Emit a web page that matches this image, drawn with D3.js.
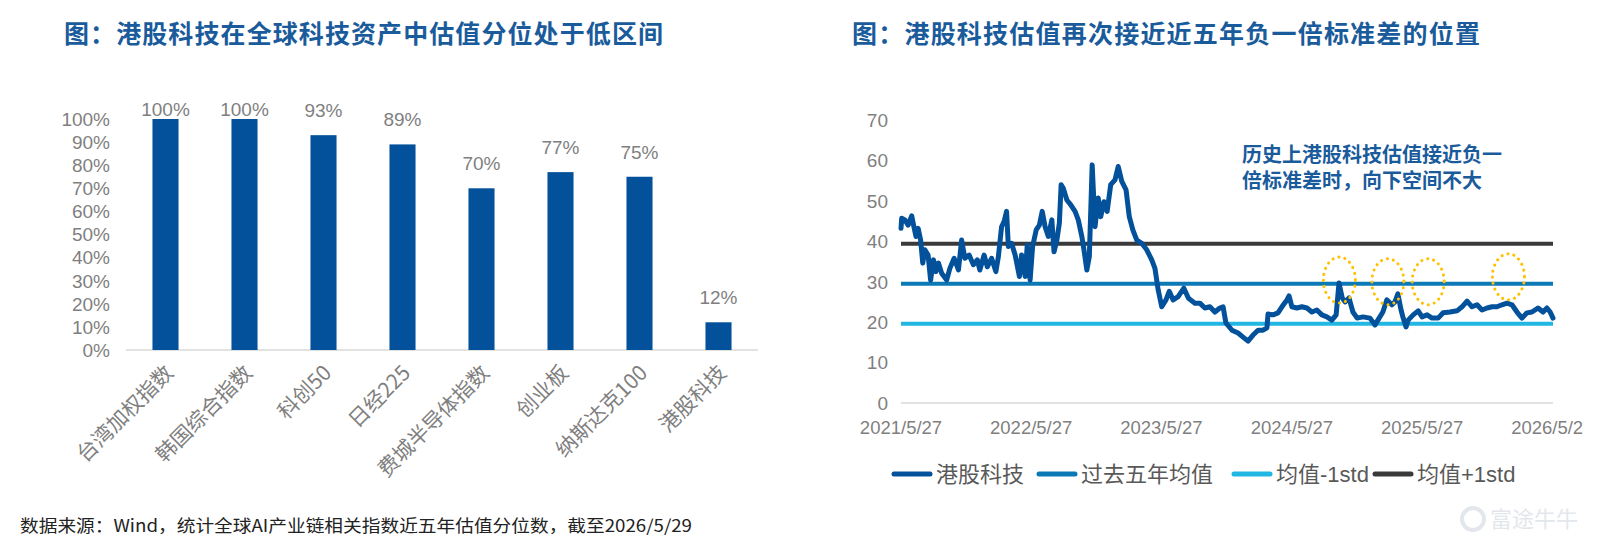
<!DOCTYPE html>
<html>
<head>
<meta charset="utf-8">
<script src="https://cdn.jsdelivr.net/npm/d3@7"></script>
<style>
  body { margin: 0; background: #fff; }
  svg { display: block; font-family: "Liberation Sans", Arial, "Noto Sans CJK SC", sans-serif; }
</style>
</head>
<body>
<svg id="svg"></svg>
<script>
let svg = d3.select("#svg");

const width = 1600;
const height = 540;

// left chart: valuation percentile of global tech indices
const categories = ["台湾加权指数", "韩国综合指数", "科创50", "日经225", "费城半导体指数", "创业板", "纳斯达克100", "港股科技"];
const percentiles = [1.00, 1.00, 0.93, 0.89, 0.70, 0.77, 0.75, 0.12];
const pctTicks = [0, 0.1, 0.2, 0.3, 0.4, 0.5, 0.6, 0.7, 0.8, 0.9, 1.0];

// right chart: HK tech valuation vs 5y mean +/- 1 std
const seriesDates = [
  "2021-05-27", "2021-05-29", "2021-06-07", "2021-06-16", "2021-06-26", "2021-06-30", "2021-07-08", "2021-07-14",
  "2021-07-21", "2021-07-27", "2021-08-02", "2021-08-11", "2021-08-18", "2021-08-26", "2021-09-02", "2021-09-09",
  "2021-09-18", "2021-10-02", "2021-10-11", "2021-10-23", "2021-11-04", "2021-11-13", "2021-11-22", "2021-12-04",
  "2021-12-16", "2021-12-27", "2022-01-03", "2022-01-15", "2022-01-24", "2022-02-05", "2022-02-17", "2022-02-24",
  "2022-03-05", "2022-03-12", "2022-03-19", "2022-03-24", "2022-04-02", "2022-04-12", "2022-04-24", "2022-04-30",
  "2022-05-10", "2022-05-16", "2022-05-24", "2022-05-31", "2022-06-10", "2022-06-19", "2022-06-27", "2022-07-05",
  "2022-07-14", "2022-07-24", "2022-07-30", "2022-08-07", "2022-08-14", "2022-08-19", "2022-08-25", "2022-09-04",
  "2022-09-15", "2022-09-27", "2022-10-06", "2022-10-16", "2022-10-22", "2022-10-30", "2022-11-06", "2022-11-14",
  "2022-11-22", "2022-12-01", "2022-12-08", "2022-12-17", "2022-12-26", "2023-01-05", "2023-01-17", "2023-01-26",
  "2023-02-05", "2023-02-17", "2023-02-26", "2023-03-08", "2023-03-19", "2023-04-02", "2023-04-16", "2023-04-30",
  "2023-05-09", "2023-05-18", "2023-05-28", "2023-06-09", "2023-06-18", "2023-06-29", "2023-07-13", "2023-07-29",
  "2023-08-11", "2023-08-29", "2023-09-12", "2023-09-26", "2023-10-10", "2023-10-24", "2023-11-07", "2023-11-16",
  "2023-11-24", "2023-12-11", "2023-12-28", "2024-01-11", "2024-01-25", "2024-02-08", "2024-02-22", "2024-03-07",
  "2024-03-18", "2024-03-21", "2024-04-04", "2024-04-18", "2024-04-29", "2024-05-13", "2024-05-19", "2024-05-27",
  "2024-06-10", "2024-06-24", "2024-07-08", "2024-07-22", "2024-08-05", "2024-08-19", "2024-09-02", "2024-09-16",
  "2024-09-28", "2024-10-06", "2024-10-15", "2024-10-23", "2024-11-03", "2024-11-14", "2024-11-26", "2024-12-12",
  "2025-01-01", "2025-01-15", "2025-01-23", "2025-02-06", "2025-02-17", "2025-03-03", "2025-03-12", "2025-03-20",
  "2025-03-29", "2025-04-04", "2025-04-12", "2025-04-18", "2025-05-02", "2025-05-16", "2025-05-27", "2025-06-10",
  "2025-06-24", "2025-07-11", "2025-07-25", "2025-08-13", "2025-09-02", "2025-09-16", "2025-09-30", "2025-10-14",
  "2025-10-28", "2025-11-11", "2025-11-25", "2025-12-09", "2025-12-23", "2026-01-06", "2026-01-20", "2026-02-03",
  "2026-02-17", "2026-03-03", "2026-03-17", "2026-03-31", "2026-04-17", "2026-05-01", "2026-05-12", "2026-05-21",
  "2026-05-29"
];
const seriesValues = [
  43.2, 45.7, 45.3, 44.0, 46.3, 44.5, 41.2, 43.2,
  40.3, 34.6, 37.9, 36.6, 30.4, 35.4, 32.5, 34.6,
  32.1, 30.4, 33.3, 35.8, 32.9, 40.3, 35.8, 36.6,
  34.2, 35.4, 32.9, 36.6, 33.7, 35.8, 32.5, 36.2,
  43.6, 44.9, 47.4, 38.7, 39.5, 36.6, 31.3, 36.6,
  31.3, 39.1, 30.4, 38.7, 42.8, 44.0, 47.4, 43.6,
  41.2, 45.3, 37.4, 40.3, 44.5, 54.0, 53.1, 50.2,
  49.0, 47.4, 45.3, 41.2, 37.9, 32.9, 36.2, 58.9,
  43.6, 50.7, 46.1, 49.8, 47.4, 54.0, 55.2, 58.5,
  54.8, 52.7, 46.1, 42.8, 40.3, 39.5, 37.9, 35.4,
  33.3, 28.0, 23.8, 25.5, 27.6, 25.5, 26.3, 28.4,
  25.9, 24.7, 24.7, 23.5, 23.8, 22.5, 23.5, 23.8,
  19.8, 18.0, 17.3, 16.3, 15.3, 16.8, 18.0, 18.0,
  18.6, 22.0, 21.8, 22.3, 23.8, 25.5, 26.5, 23.8,
  23.5, 23.8, 23.5, 22.5, 23.0, 21.8, 21.3, 20.5,
  21.8, 29.7, 26.0, 25.0, 26.0, 22.5, 21.0, 21.3,
  21.0, 19.3, 20.5, 22.5, 25.5, 24.3, 25.0, 27.0,
  23.0, 21.0, 18.8, 20.5, 21.8, 22.8, 21.3, 21.8,
  21.0, 21.0, 22.3, 22.5, 22.8, 23.8, 25.2, 23.8,
  24.3, 23.0, 23.5, 23.8, 23.8, 24.3, 24.7, 24.3,
  22.5, 21.0, 22.3, 22.5, 23.5, 22.5, 23.5, 22.5,
  21.0
];
const meanValue = 29.5;
const minusStd = 19.6;
const plusStd = 39.4;
const dateTicks = ["2021/5/27", "2022/5/27", "2023/5/27", "2024/5/27", "2025/5/27", "2026/5/27"];
const valueTicks = [0, 10, 20, 30, 40, 50, 60, 70];
const legendNames = ["港股科技", "过去五年均值", "均值-1std", "均值+1std"];

// dotted circles near the touches of the mean line
const markerDates = ["2024-10-07", "2025-02-20", "2025-06-13", "2026-01-24"];
const markerValues = [30.4, 30.0, 30.0, 31.2];

const blue = "#02519a";
const gray = "#7f7f7f";
const titleColor = "#1a5b9c";

svg.attr("width", width).attr("height", height);

function drawBars() {
  let x = d3.scaleBand()
    .domain(categories)
    .range([126, 758])
    .paddingInner(0.67)
    .paddingOuter(0.335);

  let y = d3.scaleLinear()
    .domain([0, 1])
    .range([350, 119]);

  let g = svg.append("g");

  g.append("line")
    .attr("x1", 126).attr("x2", 758)
    .attr("y1", y(0)).attr("y2", y(0))
    .attr("stroke", "#d9d9d9").attr("stroke-width", 1.5);

  g.selectAll(".ytick")
    .data(pctTicks)
    .enter()
    .append("text")
      .attr("x", 110)
      .attr("y", d => y(d))
      .attr("dy", "0.36em")
      .attr("text-anchor", "end")
      .style("font-size", "19px")
      .style("fill", gray)
      .text(d => d3.format(".0%")(d));

  g.selectAll("rect")
    .data(percentiles)
    .enter()
    .append("rect")
      .attr("x", (d, i) => x(categories[i]))
      .attr("y", d => y(d))
      .attr("width", x.bandwidth())
      .attr("height", d => y(0) - y(d))
      .attr("fill", blue);

  // value labels, kept inside the plot near the top like excel does
  g.selectAll(".vlabel")
    .data(percentiles)
    .enter()
    .append("text")
      .attr("x", (d, i) => x(categories[i]) + x.bandwidth() / 2)
      .attr("y", d => Math.max(y(d) - 25, 109))
      .attr("dy", "0.36em")
      .attr("text-anchor", "middle")
      .style("font-size", "19px")
      .style("fill", gray)
      .text(d => d3.format(".0%")(d));

  g.selectAll(".xlabel")
    .data(categories)
    .enter()
    .append("text")
      .attr("transform", d => `translate(${x(d) + x.bandwidth() / 2 + 4},${369}) rotate(-45)`)
      .attr("text-anchor", "end")
      .attr("dy", "0.35em")
      .style("font-size", "21px")
      .style("font-family", "'Noto Sans CJK SC', sans-serif")
      .style("fill", gray)
      .text(d => d);
}

function drawLines() {
  let parse = d3.timeParse("%Y-%m-%d");
  let parseTick = d3.timeParse("%Y/%m/%d");

  let x = d3.scaleTime()
    .domain([parse("2021-05-27"), parse("2026-05-29")])
    .range([901, 1553]);

  let y = d3.scaleLinear()
    .domain([0, 70])
    .range([403, 120]);

  let g = svg.append("g");

  svg.append("clipPath").attr("id", "rclip")
    .append("rect").attr("x", 800).attr("y", 0).attr("width", 783).attr("height", height);

  g.append("line")
    .attr("x1", x.range()[0]).attr("x2", x.range()[1])
    .attr("y1", y(0)).attr("y2", y(0))
    .attr("stroke", "#d9d9d9").attr("stroke-width", 1.5);

  g.selectAll(".ytick")
    .data(valueTicks)
    .enter()
    .append("text")
      .attr("x", 888)
      .attr("y", d => y(d))
      .attr("dy", "0.36em")
      .attr("text-anchor", "end")
      .style("font-size", "19px")
      .style("fill", gray)
      .text(d => d);

  // the last date label is cut by the chart frame in the original
  g.append("g").attr("clip-path", "url(#rclip)")
    .selectAll("text")
    .data(dateTicks)
    .enter()
    .append("text")
      .attr("x", d => x(parseTick(d)))
      .attr("y", 427)
      .attr("dy", "0.36em")
      .attr("text-anchor", "middle")
      .style("font-size", "18.5px")
      .style("fill", gray)
      .text(d => d);

  let refs = [
    { v: plusStd, c: "#3a3a3a" },
    { v: meanValue, c: "#0b79b5" },
    { v: minusStd, c: "#22b6e2" }
  ];
  g.selectAll(".ref")
    .data(refs)
    .enter()
    .append("line")
      .attr("x1", x.range()[0]).attr("x2", x.range()[1])
      .attr("y1", d => y(d.v)).attr("y2", d => y(d.v))
      .attr("stroke", d => d.c)
      .attr("stroke-width", 4);

  let line = d3.line()
    .x((d, i) => x(parse(seriesDates[i])))
    .y(d => y(d));

  g.append("path")
    .datum(seriesValues)
    .attr("d", line)
    .attr("fill", "none")
    .attr("stroke", blue)
    .attr("stroke-width", 5)
    .attr("stroke-linejoin", "round")
    .attr("stroke-linecap", "round");

  g.selectAll(".marker")
    .data(markerDates)
    .enter()
    .append("ellipse")
      .attr("cx", d => x(parse(d)))
      .attr("cy", (d, i) => y(markerValues[i]))
      .attr("rx", 16)
      .attr("ry", 23)
      .attr("fill", "none")
      .attr("stroke", "#ffc000")
      .attr("stroke-width", 3)
      .attr("stroke-dasharray", "0.1 6")
      .attr("stroke-linecap", "round");

  // annotation
  let note = g.append("text")
    .style("font-family", "'Noto Sans CJK SC', sans-serif")
    .style("font-size", "20px")
    .style("font-weight", "bold")
    .style("fill", titleColor);
  note.append("tspan").attr("x", 1242).attr("y", 162).text("历史上港股科技估值接近负一");
  note.append("tspan").attr("x", 1242).attr("y", 188).text("倍标准差时，向下空间不大");

  // legend
  let legendColors = [blue, "#0b79b5", "#22b6e2", "#3a3a3a"];
  let legendX = [892, 1037, 1232, 1373];
  let lg = g.selectAll(".legend")
    .data(legendNames)
    .enter()
    .append("g")
      .attr("transform", (d, i) => `translate(${legendX[i]},474)`);
  lg.append("line")
    .attr("x1", 2).attr("x2", 38)
    .attr("stroke", (d, i) => legendColors[i])
    .attr("stroke-width", 5)
    .attr("stroke-linecap", "round");
  lg.append("text")
    .attr("x", 44)
    .attr("dy", "0.36em")
    .style("font-size", "22px")
    .style("font-family", "'Liberation Sans', 'Noto Sans CJK SC', sans-serif")
    .style("fill", "#595959")
    .text(d => d);
}

function drawTitles() {
  svg.append("text")
    .attr("x", 64).attr("y", 43)
    .attr("textLength", 599)
    .style("font-family", "'Noto Sans CJK SC', sans-serif")
    .style("font-size", "25px")
    .style("font-weight", "bold")
    .style("fill", titleColor)
    .text("图：港股科技在全球科技资产中估值分位处于低区间");

  svg.append("text")
    .attr("x", 852).attr("y", 43)
    .attr("textLength", 628)
    .style("font-family", "'Noto Sans CJK SC', sans-serif")
    .style("font-size", "25px")
    .style("font-weight", "bold")
    .style("fill", titleColor)
    .text("图：港股科技估值再次接近近五年负一倍标准差的位置");

  svg.append("text")
    .attr("x", 20).attr("y", 532)
    .attr("textLength", 672)
    .attr("lengthAdjust", "spacingAndGlyphs")
    .style("font-family", "'Noto Sans CJK SC', sans-serif")
    .style("font-size", "17px")
    .style("fill", "#222")
    .text("数据来源：Wind，统计全球AI产业链相关指数近五年估值分位数，截至2026/5/29");

  // watermark
  svg.append("text")
    .attr("x", 1490).attr("y", 527)
    .style("font-family", "'Noto Sans CJK SC', sans-serif")
    .style("font-size", "22px")
    .style("fill", "#e3e7ec")
    .text("富途牛牛");
  svg.append("circle")
    .attr("cx", 1473).attr("cy", 519).attr("r", 11)
    .attr("fill", "none").attr("stroke", "#e3e7ec").attr("stroke-width", 4);
}

drawBars();
drawLines();
drawTitles();
</script>
</body>
</html>
